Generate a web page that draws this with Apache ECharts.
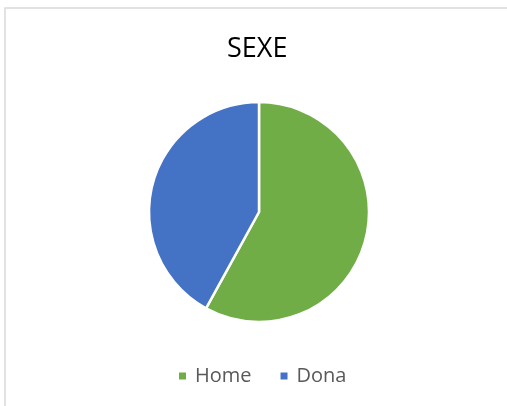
<!DOCTYPE html>
<html>
<head>
<meta charset="utf-8">
<script src="https://cdn.jsdelivr.net/npm/echarts@6/dist/echarts.min.js"></script>
<style>
  html, body { margin: 0; padding: 0; background: #fff; }
  #main { width: 507px; height: 406px; }
</style>
</head>
<body>
<div id="main"></div>
<script>
// dades del gràfic
var categories = ['Home', 'Dona'];
var values = [58, 42];
var colors = ['#70AD47', '#4472C4'];

var chart = echarts.init(document.getElementById('main'));

var pieData = categories.map(function (name, i) {
  return { name: name, value: values[i], itemStyle: { color: colors[i] } };
});

var option = {
  backgroundColor: '#fff',
  animation: false,
  graphic: [
    {
      type: 'rect',
      shape: { x: 5, y: 8, width: 520, height: 420 },
      style: { fill: 'none', stroke: '#d9d9d9', lineWidth: 1.5 },
      silent: true
    }
  ],
  title: {
    text: 'SEXE',
    left: 227,
    top: 30,
    padding: 0,
    textStyle: {
      fontFamily: 'Open Sans',
      fontSize: 27,
      fontWeight: 'normal',
      color: '#000',
      lineHeight: 38
    }
  },
  legend: {
    data: categories,
    left: 177,
    top: 366,
    padding: 0,
    icon: 'rect',
    itemWidth: 9,
    itemHeight: 9,
    itemGap: 27,
    textStyle: {
      fontFamily: 'Open Sans',
      fontSize: 20,
      color: '#595959',
      padding: [0, 0, 0, 3]
    }
  },
  series: [
    {
      type: 'pie',
      center: [259, 212],
      radius: [0, 110],
      startAngle: 90,
      clockwise: true,
      label: { show: false },
      labelLine: { show: false },
      itemStyle: { borderColor: '#fff', borderWidth: 2.5 },
      emphasis: { disabled: true },
      data: pieData
    }
  ]
};

chart.setOption(option);
</script>
</body>
</html>
